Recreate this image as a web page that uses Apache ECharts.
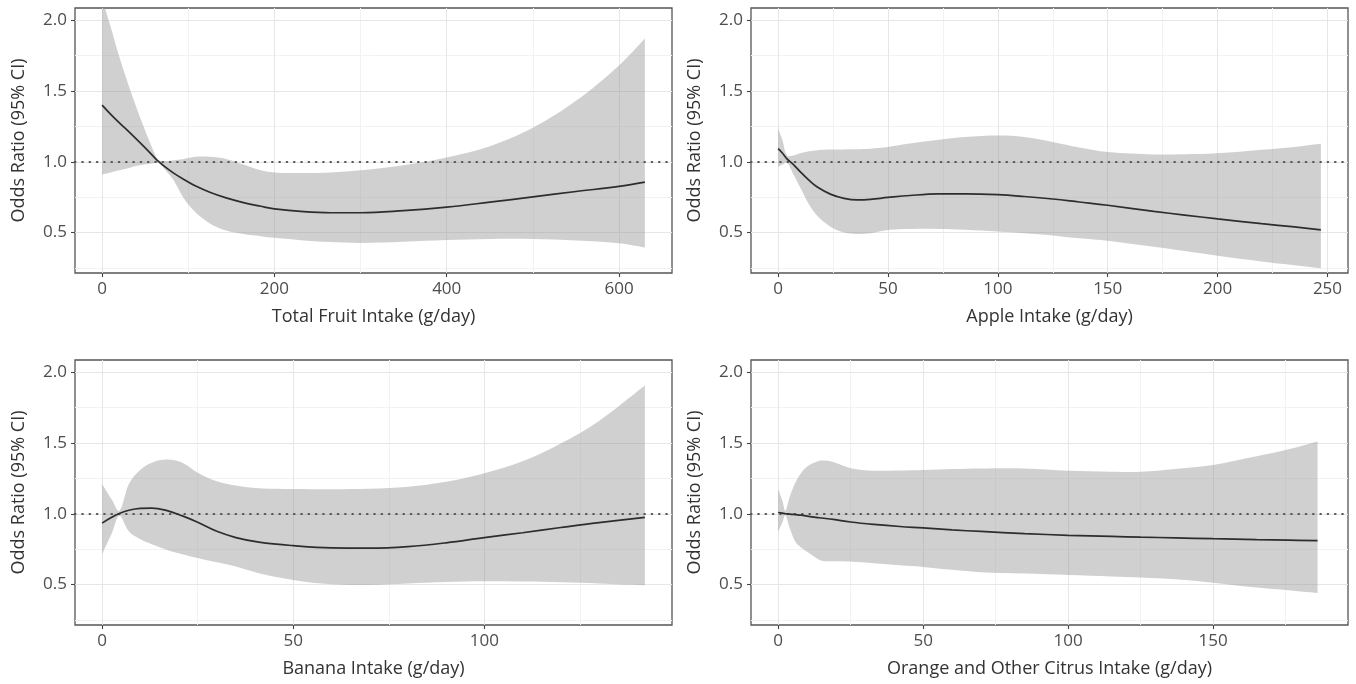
<!DOCTYPE html>
<html>
<head>
<meta charset="utf-8">
<script src="https://cdn.jsdelivr.net/npm/echarts@6/dist/echarts.min.js"></script>
<style>
html,body{margin:0;padding:0;background:#fff;}
#chart{width:1356px;height:684px;}
</style>
</head>
<body>
<div id="chart"></div>
<script>
// ---------- shared y scale ----------
const yRange = [0.215, 2.085];
const yMajor = [0.5, 1.0, 1.5, 2.0];
const yMinor = [0.25, 0.75, 1.25, 1.75];
const refValue = 1.0;
const yTitle = 'Odds Ratio (95% CI)';

// ---------- Panel 1: Total fruit ----------
const fruitTitle = 'Total Fruit Intake (g/day)';
const fruitRange = [-31.5, 661.5];
const fruitMajor = [0, 200, 400, 600];
const fruitMinor = [100, 300, 500];
const fruitX  = [0, 10, 20, 33, 48, 60, 65, 75, 83, 95, 108, 125, 144, 164, 184, 200, 234, 265, 300, 350, 400, 450, 500, 550, 600, 630];
const fruitOR = [1.40, 1.335, 1.275, 1.20, 1.11, 1.035, 1.005, 0.955, 0.92, 0.875, 0.83, 0.785, 0.745, 0.712, 0.686, 0.668, 0.648, 0.64, 0.64, 0.655, 0.68, 0.715, 0.752, 0.79, 0.826, 0.856];
const fruitLo = [0.91, 0.925, 0.94, 0.96, 0.98, 0.99, 0.995, 0.93, 0.87, 0.74, 0.645, 0.565, 0.515, 0.49, 0.475, 0.463, 0.445, 0.433, 0.427, 0.435, 0.447, 0.455, 0.455, 0.445, 0.425, 0.395];
const fruitHi = [2.15, 1.95, 1.74, 1.50, 1.25, 1.07, 1.015, 1.005, 1.01, 1.02, 1.035, 1.035, 1.02, 0.98, 0.94, 0.925, 0.92, 0.925, 0.94, 0.975, 1.03, 1.11, 1.24, 1.43, 1.68, 1.87];

// ---------- Panel 2: Apple ----------
const appleTitle = 'Apple Intake (g/day)';
const appleRange = [-12.35, 259.35];
const appleMajor = [0, 50, 100, 150, 200, 250];
const appleMinor = [25, 75, 125, 175, 225];
const appleX  = [0, 2, 4, 7, 10, 14, 18, 24, 30, 36, 42, 50, 60, 73, 85, 100, 112, 125, 137, 150, 171, 185, 200, 220, 235, 247];
const appleOR = [1.092, 1.06, 1.02, 0.98, 0.93, 0.87, 0.82, 0.77, 0.742, 0.731, 0.735, 0.748, 0.762, 0.773, 0.774, 0.768, 0.755, 0.737, 0.716, 0.693, 0.65, 0.624, 0.597, 0.563, 0.54, 0.519];
const appleLo = [0.965, 0.98, 0.995, 0.91, 0.82, 0.70, 0.615, 0.54, 0.50, 0.49, 0.495, 0.518, 0.525, 0.526, 0.52, 0.507, 0.495, 0.48, 0.46, 0.443, 0.40, 0.37, 0.337, 0.297, 0.27, 0.248];
const appleHi = [1.235, 1.15, 1.045, 1.045, 1.06, 1.075, 1.082, 1.086, 1.087, 1.088, 1.092, 1.104, 1.128, 1.155, 1.175, 1.186, 1.175, 1.14, 1.10, 1.068, 1.052, 1.053, 1.06, 1.085, 1.105, 1.127];

// ---------- Panel 3: Banana ----------
const bananaTitle = 'Banana Intake (g/day)';
const bananaRange = [-7.1, 149.1];
const bananaMajor = [0, 50, 100];
const bananaMinor = [25, 75, 125];
const bananaX  = [0, 2.5, 4.5, 7, 10, 13, 17, 21, 25, 30, 35, 41, 50, 60, 70, 80, 90, 100, 110, 120, 130, 142];
const bananaOR = [0.934, 0.975, 1.002, 1.025, 1.038, 1.04, 1.022, 0.985, 0.94, 0.876, 0.832, 0.80, 0.775, 0.759, 0.757, 0.768, 0.795, 0.832, 0.866, 0.903, 0.938, 0.975];
const bananaLo = [0.715, 0.86, 0.985, 0.875, 0.82, 0.785, 0.745, 0.715, 0.687, 0.657, 0.627, 0.58, 0.533, 0.502, 0.498, 0.508, 0.518, 0.524, 0.522, 0.516, 0.508, 0.495];
const bananaHi = [1.21, 1.10, 1.02, 1.21, 1.31, 1.36, 1.382, 1.36, 1.29, 1.23, 1.20, 1.18, 1.175, 1.173, 1.176, 1.19, 1.225, 1.285, 1.37, 1.495, 1.655, 1.905];

// ---------- Panel 4: Orange and other citrus ----------
const citrusTitle = 'Orange and Other Citrus Intake (g/day)';
const citrusRange = [-9.35, 196.5];
const citrusMajor = [0, 50, 100, 150];
const citrusMinor = [25, 75, 125, 175];
const citrusX  = [0, 1.5, 2.5, 4, 6, 8, 10.5, 13, 15, 19, 25, 33, 42, 50, 60, 70, 85, 100, 115, 125, 137, 150, 165, 176, 186];
const citrusOR = [1.009, 1.005, 1.0, 0.998, 0.994, 0.99, 0.982, 0.975, 0.97, 0.96, 0.942, 0.925, 0.91, 0.9, 0.886, 0.875, 0.86, 0.848, 0.84, 0.835, 0.83, 0.824, 0.818, 0.814, 0.81];
const citrusLo = [0.873, 0.94, 0.99, 0.90, 0.80, 0.76, 0.725, 0.69, 0.668, 0.665, 0.663, 0.65, 0.636, 0.625, 0.605, 0.588, 0.578, 0.568, 0.558, 0.551, 0.538, 0.514, 0.48, 0.46, 0.44];
const citrusHi = [1.175, 1.09, 1.02, 1.12, 1.22, 1.29, 1.34, 1.365, 1.375, 1.365, 1.322, 1.304, 1.305, 1.309, 1.316, 1.32, 1.32, 1.304, 1.297, 1.296, 1.316, 1.344, 1.405, 1.455, 1.51];

// ---------- build ----------
const panels = [
  {title: fruitTitle,  range: fruitRange,  major: fruitMajor,  minor: fruitMinor,  x: fruitX,  or: fruitOR,  lo: fruitLo,  hi: fruitHi},
  {title: appleTitle,  range: appleRange,  major: appleMajor,  minor: appleMinor,  x: appleX,  or: appleOR,  lo: appleLo,  hi: appleHi},
  {title: bananaTitle, range: bananaRange, major: bananaMajor, minor: bananaMinor, x: bananaX, or: bananaOR, lo: bananaLo, hi: bananaHi},
  {title: citrusTitle, range: citrusRange, major: citrusMajor, minor: citrusMinor, x: citrusX, or: citrusOR, lo: citrusLo, hi: citrusHi}
];

const FONT = "'Open Sans', 'Noto Sans', sans-serif";
const gridBoxes = [
  {left: 75,  top: 8,   width: 597, height: 265},
  {left: 751, top: 8,   width: 597, height: 265},
  {left: 75,  top: 360, width: 597, height: 265},
  {left: 751, top: 360, width: 597, height: 265}
];

const majorStyle = {color: '#e6e6e6', width: 1, type: 'solid'};
const minorStyle = {color: '#f2f2f2', width: 1, type: 'solid'};
const BAND_SMOOTH = 0.35;

function bandRenderer(p) {
  return function (params, api) {
    const up = p.x.map((x, k) => api.coord([x, p.hi[k]]));
    const dn = p.x.map((x, k) => api.coord([x, p.lo[k]])).reverse();
    // corners doubled so the ends of the ribbon stay straight
    const pts = [up[0]].concat(up, [up[up.length - 1], dn[0]], dn, [dn[dn.length - 1]]);
    return {
      type: 'polygon',
      shape: {points: pts, smooth: BAND_SMOOTH},
      style: {fill: 'rgba(150,150,150,0.45)', stroke: null}
    };
  };
}

const grid = [], xAxis = [], yAxis = [], series = [];
panels.forEach((p, i) => {
  grid.push(Object.assign({show: true, borderColor: '#555', borderWidth: 1.3, backgroundColor: '#fff', containLabel: false}, gridBoxes[i]));
  xAxis.push({
    type: 'value', gridIndex: i, min: p.range[0], max: p.range[1],
    axisLine: {show: false, onZero: false},
    axisTick: {show: true, length: 4, customValues: p.major, lineStyle: {color: '#444', width: 1.1}},
    axisLabel: {show: true, customValues: p.major, color: '#4d4d4d', fontSize: 17, fontFamily: FONT, margin: 8},
    splitLine: {show: false},
    name: p.title, nameLocation: 'middle', nameGap: 35,
    nameTextStyle: {color: '#333', fontSize: 18, fontFamily: FONT}
  });
  yAxis.push({
    type: 'value', gridIndex: i, min: yRange[0], max: yRange[1],
    axisLine: {show: false, onZero: false},
    axisTick: {show: true, length: 4, customValues: yMajor, lineStyle: {color: '#444', width: 1.1}},
    axisLabel: {show: true, customValues: yMajor, formatter: v => v.toFixed(1), color: '#4d4d4d', fontSize: 17, fontFamily: FONT, margin: 8},
    splitLine: {show: false},
    name: yTitle, nameLocation: 'middle', nameGap: 47,
    nameTextStyle: {color: '#333', fontSize: 18, fontFamily: FONT}
  });

  const gridMarks = []
    .concat(p.minor.map(v => ({xAxis: v, lineStyle: minorStyle})))
    .concat(yMinor.map(v => ({yAxis: v, lineStyle: minorStyle})))
    .concat(p.major.map(v => ({xAxis: v, lineStyle: majorStyle})))
    .concat(yMajor.map(v => ({yAxis: v, lineStyle: majorStyle})));

  // grid lines (drawn through the axes' scales)
  series.push({
    type: 'line', xAxisIndex: i, yAxisIndex: i, data: [], silent: true, z: 1,
    markLine: {silent: true, symbol: 'none', z: 1, label: {show: false}, animation: false, data: gridMarks}
  });
  // CI ribbon
  series.push({
    type: 'custom', xAxisIndex: i, yAxisIndex: i, z: 2, silent: true, clip: true,
    data: [[p.x[0], p.or[0]]],
    renderItem: bandRenderer(p)
  });
  // fitted OR line + reference line
  series.push({
    type: 'line', xAxisIndex: i, yAxisIndex: i, z: 4, silent: true,
    data: p.x.map((x, k) => [x, p.or[k]]),
    showSymbol: false, smooth: 0.4,
    lineStyle: {color: '#2d2d2d', width: 1.7},
    markLine: {silent: true, symbol: 'none', z: 3, label: {show: false}, animation: false,
      data: [{yAxis: refValue}],
      lineStyle: {color: '#555', width: 2.2, type: [0.5, 6.8], cap: 'round'}}
  });
});

const chart = echarts.init(document.getElementById('chart'), null, {renderer: 'canvas'});
chart.setOption({
  animation: false,
  backgroundColor: '#fff',
  grid, xAxis, yAxis, series
});
</script>
</body>
</html>
